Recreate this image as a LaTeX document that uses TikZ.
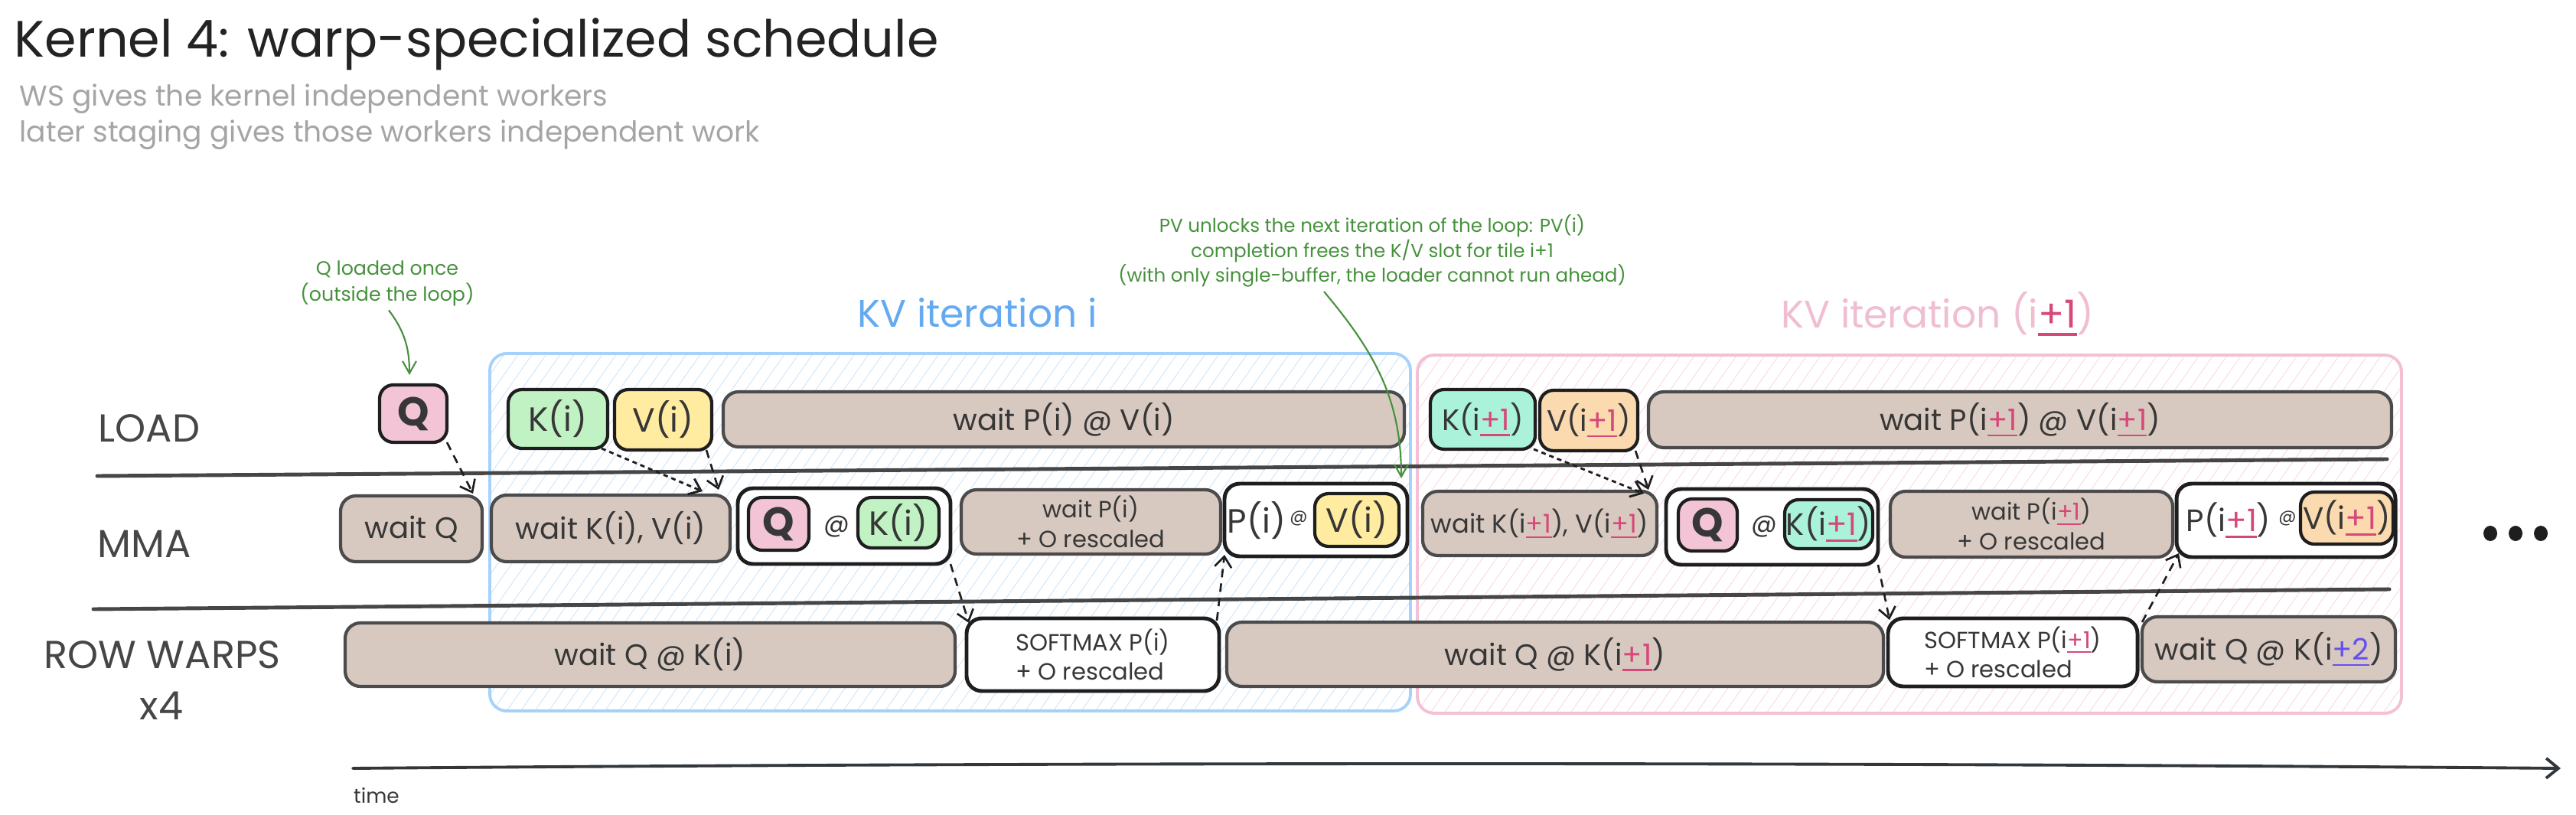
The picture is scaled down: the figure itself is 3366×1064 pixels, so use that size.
\documentclass[tikz,border=0pt]{standalone}
\usepackage{fontspec}
\setmainfont{Poppins}
\usetikzlibrary{fit,arrows.meta,patterns.meta}

\definecolor{txt}{RGB}{55,55,55}
\definecolor{titlec}{RGB}{35,35,35}
\definecolor{subc}{RGB}{165,165,165}
\definecolor{lanec}{RGB}{70,70,70}
\definecolor{bfill}{RGB}{215,201,192}
\definecolor{bstroke}{RGB}{75,75,75}
\definecolor{wstroke}{RGB}{30,30,30}
\definecolor{qpink}{RGB}{242,196,214}
\definecolor{kgreen}{RGB}{192,242,196}
\definecolor{vyellow}{RGB}{255,236,160}
\definecolor{kteal}{RGB}{170,242,218}
\definecolor{vorange}{RGB}{250,218,174}
\definecolor{cblue}{RGB}{165,210,250}
\definecolor{hblue}{RGB}{214,232,250}
\definecolor{cpink}{RGB}{243,192,212}
\definecolor{hpink}{RGB}{250,222,232}
\definecolor{lblue}{RGB}{100,170,242}
\definecolor{lpink}{RGB}{240,190,210}
\definecolor{pk}{RGB}{214,72,120}
\definecolor{vi}{RGB}{100,80,240}
\definecolor{gc}{RGB}{70,145,60}
\definecolor{arrc}{RGB}{30,30,30}
\definecolor{axc}{RGB}{50,55,60}

\newcommand\myplus[2]{{\color{#1}\setbox0\hbox{+#2}\rlap{\rule[-0.2em]{\wd0}{0.075em}}\box0}}
\newcommand\kvpone{\myplus{pk}{1}}
\newcommand\kvptwo{\myplus{vi}{2}}
\newcommand\mybox[7]{\node[#1,fit={(#3,#4) (#5,#6)}] (#2) {};
  \node[#1, draw=none, fill=none, anchor=center] (#2-t) at (#2.center) {#7};}

\tikzset{
  basebox/.style={inner sep=0pt, outer sep=0pt, rounded corners=2mm, text=txt,
    font=\fontsize{11}{13}\selectfont},
  brownbox/.style={basebox, draw=bstroke, fill=bfill, line width=1.2pt},
  whitebox/.style={basebox, draw=wstroke, fill=white, line width=1.4pt},
  chip/.style={basebox, draw=wstroke, line width=1.2pt, rounded corners=1.8mm,
    font=\fontsize{12.5}{14}\selectfont},
  twoline/.style={align=center, font=\fontsize{8.7}{11}\selectfont},
  twoleft/.style={align=left, font=\fontsize{8.7}{11}\selectfont},
  lanelabel/.style={text=lanec, font=\fontsize{14.5}{17}\selectfont, inner sep=0pt},
  lanesep/.style={draw=lanec, line width=1.4pt, line cap=round},
  container/.style={inner sep=0pt, outer sep=0pt, rounded corners=2.2mm, line width=1.1pt},
  annot/.style={text=gc, align=center, inner sep=0.5mm},
  dasharr/.style={draw=arrc, line width=0.75pt, dash pattern=on 1.1mm off 0.8mm,
    -{Straight Barb[length=1.4mm,width=2.2mm]}},
  dotarr/.style={draw=arrc, line width=0.8pt, dash pattern=on 0.6mm off 0.5mm,
    -{Straight Barb[length=1.4mm,width=2.2mm]}},
  garr/.style={draw=gc, line width=0.6pt, -{Straight Barb[length=1.6mm,width=1.8mm]}},
  axisarr/.style={draw=axc, line width=1.1pt, line cap=round, -{Straight Barb[length=1.6mm,width=2.6mm]}},
}

\begin{document}
\begin{tikzpicture}[x=0.1mm,y=-0.1mm]
\useasboundingbox[fill=white] (0,0) rectangle (3366,1064);

% title
\node[anchor=base west, inner sep=0pt, text=titlec, font=\fontsize{19}{22}\selectfont] (title) at (18,75) {Kernel 4: warp-specialized schedule};
\node[anchor=base west, inner sep=0pt, text=subc, font=\fontsize{10.7}{13}\selectfont] (sub1) at (25,138) {WS gives the kernel independent workers};
\node[anchor=base west, inner sep=0pt, text=subc, font=\fontsize{10.7}{13}\selectfont] (sub2) at (25,185) {later staging gives those workers independent work};

% containers
\node[container, draw=cblue, pattern={Lines[angle=55,distance=1.5mm,line width=0.3pt]}, pattern color=hblue, fit={(640,462) (1843,929)}] (kvi) {};
\node[container, draw=cpink, pattern={Lines[angle=55,distance=1.5mm,line width=0.3pt]}, pattern color=hpink, fit={(1852,464) (3138,932)}] (kvn) {};
\node[text=lblue, font=\fontsize{14.3}{17}\selectfont, inner sep=0pt] (kvilab) at (1277,409) {KV iteration i};
\node[text=lpink, font=\fontsize{14.3}{17}\selectfont, inner sep=0pt] (kvnlab) at (2532,410) {KV iteration (i\kvpone)};

% lane labels
\node[lanelabel] (lload) at (195,560) {LOAD};
\node[lanelabel] (lmma) at (189,711) {MMA};
\node[lanelabel] (lrow) at (212,856) {ROW WARPS};
\node[lanelabel] (lx4) at (211,922) {x4};

% lane separators
\coordinate (s1a) at (127,622); \coordinate (s1b) at (3119,600);
\coordinate (s2a) at (122,796); \coordinate (s2b) at (3122,770);
\draw[lanesep] (s1a) -- (s1b);
\draw[lanesep] (s2a) -- (s2b);

% LOAD row
\mybox{chip, fill=qpink, font=\fontsize{15}{17}\selectfont\bfseries}{lq}{496}{503}{584}{578}{Q}
\mybox{chip, fill=kgreen}{lk}{664}{509}{794}{586}{K(i)}
\mybox{chip, fill=vyellow}{lv}{803}{509}{930}{588}{V(i)}
\mybox{brownbox}{lw}{945}{512}{1835}{584}{wait P(i) @ V(i)}
\mybox{chip, fill=kteal, font=\fontsize{11}{13}\selectfont}{lk2}{1869}{509}{2006}{587}{K(i\kvpone)}
\mybox{chip, fill=vorange, font=\fontsize{11}{13}\selectfont}{lv2}{2012}{510}{2140}{589}{V(i\kvpone)}
\mybox{brownbox}{lw2}{2154}{512}{3125}{585}{wait P(i\kvpone) @ V(i\kvpone)}

% MMA row
\mybox{brownbox}{mwq}{445}{648}{630}{734}{wait Q}
\mybox{brownbox}{mwkv}{642}{647}{954}{734}{wait K(i), V(i)}
\mybox{whitebox}{mqk}{964}{638}{1242}{737}{}
\mybox{chip, fill=qpink, font=\fontsize{15}{17}\selectfont\bfseries}{mqkq}{978}{650}{1057}{719}{Q}
\node[text=txt, font=\fontsize{9.5}{11}\selectfont, inner sep=0pt] (mqkat) at (1093,688) {@};
\mybox{chip, fill=kgreen}{mqkk}{1121}{650}{1227}{716}{K(i)}
\mybox{brownbox, twoline}{mwp}{1256}{640}{1595}{724}{wait P(i)\\+ O rescaled}
\mybox{whitebox}{mpv}{1600}{632}{1839}{727}{}
\node[text=txt, font=\fontsize{12.5}{14}\selectfont, inner sep=0pt] (mpvp) at (1642,680) {P(i)};
\node[text=txt, font=\fontsize{6.5}{8}\selectfont, inner sep=0pt] (mpvat) at (1697,677) {@};
\mybox{chip, fill=vyellow}{mpvv}{1718}{645}{1828}{714}{V(i)}

\mybox{brownbox, font=\fontsize{9.6}{11}\selectfont}{mwkv2}{1859}{642}{2165}{726}{wait K(i\kvpone), V(i\kvpone)}
\mybox{whitebox}{mqk2}{2177}{639}{2454}{738}{}
\mybox{chip, fill=qpink, font=\fontsize{15}{17}\selectfont\bfseries}{mqk2q}{2193}{652}{2270}{720}{Q}
\node[text=txt, font=\fontsize{9.5}{11}\selectfont, inner sep=0pt] (mqk2at) at (2305,688) {@};
\mybox{chip, fill=kteal, font=\fontsize{11.5}{13}\selectfont}{mqk2k}{2332}{653}{2447}{717}{K(i\kvpone)}
\mybox{brownbox, twoline}{mwp2}{2470}{642}{2839}{728}{wait P(i\kvpone)\\+ O rescaled}
\mybox{whitebox}{mpv2}{2844}{632}{3130}{728}{}
\node[text=txt, font=\fontsize{11.5}{13}\selectfont, inner sep=0pt] (mpv2p) at (2912,680) {P(i\kvpone)};
\node[text=txt, font=\fontsize{6.5}{8}\selectfont, inner sep=0pt] (mpv2at) at (2989,677) {@};
\mybox{chip, fill=vorange, font=\fontsize{11.5}{13}\selectfont}{mpv2v}{3006}{643}{3127}{711}{V(i\kvpone)}

% ellipsis
\fill[arrc] (3254,697) ellipse [x radius=9, y radius=10];
\fill[arrc] (3287,697) ellipse [x radius=9, y radius=10];
\fill[arrc] (3320,697) ellipse [x radius=9, y radius=10];

% ROW WARPS row
\mybox{brownbox}{rwq}{451}{814}{1248}{897}{wait Q @ K(i)}
\mybox{whitebox, twoleft}{rsm}{1263}{808}{1593}{903}{SOFTMAX P(i)\\+ O rescaled}
\mybox{brownbox}{rwq2}{1603}{813}{2461}{897}{wait Q @ K(i\kvpone)}
\mybox{whitebox, twoleft}{rsm2}{2467}{808}{2793}{897}{SOFTMAX P(i\kvpone)\\+ O rescaled}
\mybox{brownbox}{rwq3}{2799}{806}{3130}{891}{wait Q @ K(i\kvptwo)}

% annotations
\node[annot, font=\fontsize{7.2}{9.7}\selectfont] (qnote) at (506,370) {Q loaded once\\(outside the loop)};
\node[annot, font=\fontsize{7}{9.25}\selectfont] (pvnote) at (1793,328) {PV unlocks the next iteration of the loop: PV(i)\\completion frees the K/V slot for tile i+1\\(with only single-buffer, the loader cannot run ahead)};
\draw[garr] ([xshift=0.2mm]qnote.south) to[out=-53, in=90] ([yshift=1.3mm]lq.north -| 535,0);
\draw[garr] ([xshift=-6.3mm]pvnote.south) to[out=-50, in=90] ([xshift=-0.8mm,yshift=0.7mm]mpv.north east);

% dashed dependencies
\draw[dasharr] (lq.south east) -- ([xshift=-1.2mm,yshift=0.3mm]mwq.north east);
\draw[dotarr] ([xshift=-0.8mm]lk.south east) -- ([xshift=-3.6mm,yshift=0.5mm]mwkv.north east);
\draw[dasharr] ([xshift=-0.7mm]lv.south east) -- ([xshift=-1.5mm,yshift=0.7mm]mwkv.north east);
\draw[dasharr] (mqk.south east) -- ([xshift=0.3mm,yshift=-0.6mm]rsm.north west);
\draw[dasharr] ([xshift=-0.3mm,yshift=-0.3mm]rsm.north east) -- ([yshift=0.2mm]mpv.south west);
\draw[dotarr] ([xshift=-0.2mm]lk2.south east) -- ([xshift=-1.7mm,yshift=-0.3mm]mwkv2.north east);
\draw[dasharr] ([xshift=-0.3mm]lv2.south east) -- ([xshift=-1.1mm,yshift=0.2mm]mwkv2.north east);
\draw[dasharr] (mqk2.south east) -- ([xshift=0.2mm,yshift=-0.2mm]rsm2.north west);
\draw[dasharr] ([xshift=0.6mm,yshift=-0.5mm]rsm2.north east) -- ([xshift=0.3mm,yshift=0.5mm]mpv2.south west);

% time axis
\coordinate (t0) at (461,1004);
\coordinate (t1) at (3346,1004);
\draw[axisarr] (t0) .. controls (1400,996) and (2400,996) .. (t1);
\node[text=txt, font=\fontsize{7.5}{9}\selectfont, inner sep=0pt] (timelab) at (492,1040) {time};
\end{tikzpicture}
\end{document}
